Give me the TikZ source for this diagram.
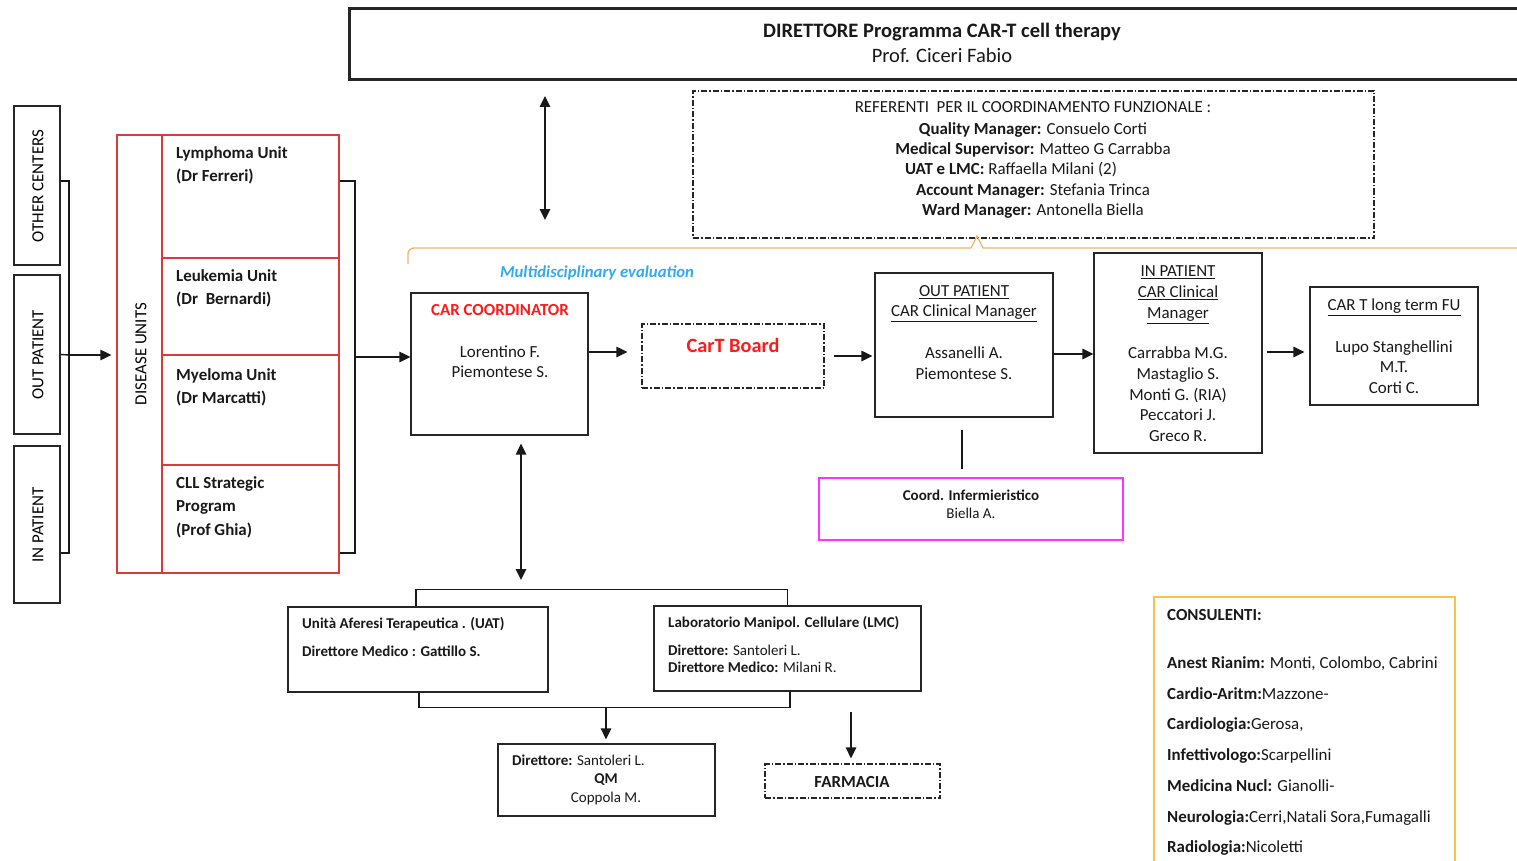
\documentclass[tikz,border=0pt]{standalone}
\usepackage{fontspec}
\setmainfont{Carlito}
\usetikzlibrary{arrows.meta,calc}
\definecolor{redbox}{HTML}{D93A3A}
\definecolor{redtxt}{HTML}{FF1A1A}
\definecolor{magbox}{HTML}{FF33FF}
\definecolor{orline}{HTML}{F5B26B}
\definecolor{consbox}{HTML}{F7C24A}
\definecolor{bluetxt}{HTML}{33AAEE}
\newcommand{\fsz}[2]{\fontsize{#1}{#2}\selectfont}
\begin{document}
\begin{tikzpicture}[x=1pt,y=-1pt,
  box/.style={draw=black!85, line width=1.3pt, inner sep=0pt},
  ddbox/.style={box, dash pattern=on 6pt off 2pt on 1.5pt off 2pt},
  tb/.style={anchor=base, inner sep=0pt, text=black!90},
  tw/.style={anchor=base west, inner sep=0pt, text=black!90},
  conn/.style={draw=black!90, line width=1.4pt},
  arr/.style={conn, -{Triangle[length=11pt,width=10.5pt]}},
  darr/.style={conn, {Triangle[length=11pt,width=10.5pt]}-{Triangle[length=11pt,width=10.5pt]}},
  f13/.style={font=\fsz{15}{18}},
  f14/.style={font=\fsz{16.9}{20}},
  f15/.style={font=\fsz{16.9}{20}},
  f17/.style={font=\fsz{20.5}{24}}
]
\fill[white] (0,0) rectangle (1517,861);
\clip (0,0) rectangle (1517,861);

% ---------- top director box ----------
\node[box, line width=3pt, minimum width=1185, minimum height=71] (dir) at (941.5,44.5) {};
\node[tb,f17] (dir1) at (942,37.5) {\bfseries DIRETTORE Programma CAR-T cell therapy};
\node[tb,f17] (dir2) at (942,62.5) {Prof. Ciceri Fabio};

\coordinate (da1) at (545,96);
\coordinate (da2) at (545,220);
\draw[darr] (da1) -- (da2);

% ---------- referenti ----------
\node[ddbox, minimum width=681, minimum height=147] (ref) at (1033.5,164.5) {};
\node[tb,f14] (ref1) at (1033,112.5) {REFERENTI~~PER IL COORDINAMENTO FUNZIONALE :};
\node[tb,f14] (ref2) at (1033,134.5) {\textbf{Quality Manager:} Consuelo Corti};
\node[tb,f14] (ref3) at (1033,154.5) {\textbf{Medical Supervisor:} Matteo G Carrabba};
\node[tb,f14] (ref4) at (1011,174.5) {\textbf{UAT e LMC:} Raffaella Milani (2)};
\node[tb,f14] (ref5) at (1033,195.5) {\textbf{Account Manager:} Stefania Trinca};
\node[tb,f14] (ref6) at (1033,215.5) {\textbf{Ward Manager:} Antonella Biella};

% ---------- orange brace ----------
\draw[orline, line width=1.3pt, rounded corners=6pt] (408,264) -- (408,248) -- (971,248);
\draw[orline, line width=1.3pt] (971,248) -- (977,236) -- (983,248) -- (1530,248);
\node[tb, font=\fsz{16.7}{20}\bfseries\itshape, text=bluetxt] (multi) at (597,277) {Multidisciplinary evaluation};

% ---------- left boxes ----------
\node[box, minimum width=46, minimum height=159] (other) at (37,185.5) {};
\node[box, minimum width=46, minimum height=159] (outp) at (37,354.5) {};
\node[box, minimum width=46, minimum height=157] (inp) at (37,524.5) {};
\node[f15, rotate=90, inner sep=0pt] (othert) at (38,186) {OTHER CENTERS};
\node[f15, rotate=90, inner sep=0pt] (outpt) at (38,355) {OUT PATIENT};
\node[f15, rotate=90, inner sep=0pt] (inpt) at (38,525) {IN PATIENT};

\coordinate (lbx) at (69,355);
\draw[conn] ([yshift=4.5pt]other.east) -| (lbx) |- ([yshift=-28.5pt]inp.east);
\draw[conn] (outp.east) -- (lbx);

% ---------- disease units ----------
\node[draw=redbox, line width=1.3pt, inner sep=0pt, minimum width=222, minimum height=438] (dis) at (228,354) {};
\draw[redbox, line width=1.3pt] (162,135) -- (162,573);
\draw[redbox, line width=1.3pt] (162,258) -- (339,258);
\draw[redbox, line width=1.3pt] (162,355) -- (339,355);
\draw[redbox, line width=1.3pt] (162,465) -- (339,465);
\node[f15, rotate=90, inner sep=0pt] (dist) at (141,354) {DISEASE UNITS};
\draw[arr, shorten >=5pt] (lbx) -- (lbx -| dis.west);

\node[tw,f15] (u1a) at (176,158.5) {\bfseries Lymphoma Unit};
\node[tw,f15] (u1b) at (176,181.5) {\bfseries (Dr Ferreri)};
\node[tw,f15] (u2a) at (176,281.5) {\bfseries Leukemia Unit};
\node[tw,f15] (u2b) at (176,304.5) {\bfseries (Dr~~Bernardi)};
\node[tw,f15] (u3a) at (176,380.5) {\bfseries Myeloma Unit};
\node[tw,f15] (u3b) at (176,403.5) {\bfseries (Dr Marcatti)};
\node[tw,f15] (u4a) at (176,488.5) {\bfseries CLL Strategic};
\node[tw,f15] (u4b) at (176,511.5) {\bfseries Program};
\node[tw,f15] (u4c) at (176,535.5) {\bfseries (Prof Ghia)};

\coordinate (rbt) at (355,181);
\coordinate (rbm) at (355,357);
\coordinate (rbb) at (355,553);
\draw[conn] (rbt -| dis.east) -- (rbt) -- (rbb) -- (rbb -| dis.east);

% ---------- CAR coordinator ----------
\node[box, minimum width=177, minimum height=142] (car) at (499.5,364) {};
\node[tb,f14, text=redtxt] (car1) at (500,315.5) {\bfseries CAR COORDINATOR};
\node[tb,f14] (car2) at (500,357.5) {Lorentino F.};
\node[tb,f14] (car3) at (500,377.5) {Piemontese S.};
\draw[arr] (rbm) -- (rbm -| car.west);

% ---------- CarT board ----------
\node[ddbox, minimum width=182, minimum height=64] (board) at (733,356) {};
\node[tb, font=\fsz{20.3}{24}\bfseries, text=redtxt] (boardt) at (733,352) {CarT Board};
\draw[arr, shorten >=14pt] ([yshift=12pt]car.east) -- ([yshift=12pt]car.east -| board.west);

% ---------- out patient manager ----------
\node[box, minimum width=178, minimum height=144] (outm) at (964,345) {};
\node[tb,f14] (outm1) at (964,296.5) {\underline{OUT PATIENT}};
\node[tb,f14] (outm2) at (964,316.5) {\underline{CAR Clinical Manager}};
\node[tb,f14] (outm3) at (964,358.5) {Assanelli A.};
\node[tb,f14] (outm4) at (964,379.5) {Piemontese S.};
\draw[arr, shorten <=9pt, shorten >=2pt] (board.east) -- (board.east -| outm.west);

% ---------- in patient manager ----------
\node[box, minimum width=168, minimum height=200] (inm) at (1178,353) {};
\node[tb,f14] (inm1) at (1178,276.5) {\underline{IN PATIENT}};
\node[tb,f14] (inm2) at (1178,297.5) {\underline{CAR Clinical}};
\node[tb,f14] (inm3) at (1178,318.5) {\underline{Manager}};
\node[tb,f14] (inm4) at (1178,358.5) {Carrabba M.G.};
\node[tb,f14] (inm5) at (1178,379.5) {Mastaglio S.};
\node[tb,f14] (inm6) at (1178,400.5) {Monti G. (RIA)};
\node[tb,f14] (inm7) at (1178,420.5) {Peccatori J.};
\node[tb,f14] (inm8) at (1178,441.5) {Greco R.};
\draw[arr] ([yshift=-9pt]outm.east) -- ([yshift=-9pt]outm.east -| inm.west);

% ---------- long term FU ----------
\node[box, minimum width=168, minimum height=118] (ltfu) at (1394,346) {};
\node[tb,f14] (lt1) at (1394,310.5) {\underline{CAR T long term FU}};
\node[tb,f14] (lt2) at (1394,352.5) {Lupo Stanghellini};
\node[tb,f14] (lt3) at (1394,372.5) {M.T.};
\node[tb,f14] (lt4) at (1394,393.5) {Corti C.};
\draw[arr, shorten <=4pt, shorten >=5pt] ([yshift=1pt]inm.east) -- ([yshift=1pt]inm.east -| ltfu.west);

% ---------- coord infermieristico ----------
\node[draw=magbox, line width=1.3pt, inner sep=0pt, minimum width=304, minimum height=62] (coord) at (971,509) {};
\node[tb,f13] (coord1) at (971,500) {\bfseries Coord. Infermieristico};
\node[tb,f13] (coord2) at (971,518) {Biella A.};
\draw[conn, shorten <=12pt, shorten >=8pt] ([xshift=-2pt]outm.south) -- ([xshift=-2pt]outm.south |- coord.north);

% ---------- UAT / LMC ----------
\node[box, minimum width=260, minimum height=85] (uat) at (418,649.5) {};
\node[tw,f13] (uat1) at (302,628) {\bfseries Unità Aferesi Terapeutica . (UAT)};
\node[tw,f13] (uat2) at (302,656) {\bfseries Direttore Medico : Gattillo S.};
\node[box, minimum width=267, minimum height=85] (lmc) at (787.5,648.5) {};
\node[tw,f13] (lmc1) at (668,627) {\bfseries Laboratorio Manipol. Cellulare (LMC)};
\node[tw,f13] (lmc2) at (668,655) {\textbf{Direttore:} Santoleri L.};
\node[tw,f13] (lmc3) at (668,672) {\textbf{Direttore Medico:} Milani R.};

\draw[conn] ([xshift=-2pt]uat.north) -- ++(0,-17) -| (lmc.north);
\draw[darr, shorten <=8pt, shorten >=10pt] ([xshift=21.5pt]car.south) -- ([xshift=21.5pt]car.south |- 0,590);

\draw[conn] ([xshift=1pt]uat.south) -- ++(0,15) -| ([xshift=2.5pt]lmc.south);
\coordinate (bb) at (606,707);

% ---------- QM ----------
\node[box, minimum width=217, minimum height=72] (qm) at (606.5,780) {};
\node[tw,f13] (qm1) at (512,765) {\textbf{Direttore:} Santoleri L.};
\node[tb,f13] (qm2) at (606,783) {\bfseries QM};
\node[tb,f13] (qm3) at (606,802) {Coppola M.};
\draw[arr, shorten >=4pt] (bb) -- (bb |- qm.north);

% ---------- FARMACIA ----------
\node[ddbox, minimum width=175, minimum height=34] (farm) at (852.5,781) {};
\node[tb,f14] (farmt) at (852,787) {\bfseries FARMACIA};
\draw[arr, shorten <=20pt, shorten >=5pt] ([xshift=-1.5pt]farm.north |- lmc.south) -- ([xshift=-1.5pt]farm.north);

% ---------- CONSULENTI ----------
\node[draw=consbox, line width=1.3pt, inner sep=0pt, minimum width=301, minimum height=290] (cons) at (1304.5,742) {};
\node[tw,f14] (c0) at (1167,620.5) {\bfseries CONSULENTI:};
\node[tw,f14] (c1) at (1167,668.5) {\textbf{Anest Rianim:} Monti, Colombo, Cabrini};
\node[tw,f14] (c2) at (1167,699.5) {\textbf{Cardio-Aritm:}Mazzone-};
\node[tw,f14] (c3) at (1167,729.5) {\textbf{Cardiologia:}Gerosa,};
\node[tw,f14] (c4) at (1167,760.5) {\textbf{Infettivologo:}Scarpellini};
\node[tw,f14] (c5) at (1167,791.5) {\textbf{Medicina Nucl:} Gianolli-};
\node[tw,f14] (c6) at (1167,822.5) {\textbf{Neurologia:}Cerri,Natali Sora,Fumagalli};
\node[tw,f14] (c7) at (1167,852.5) {\textbf{Radiologia:}Nicoletti};
\end{tikzpicture}
\end{document}
